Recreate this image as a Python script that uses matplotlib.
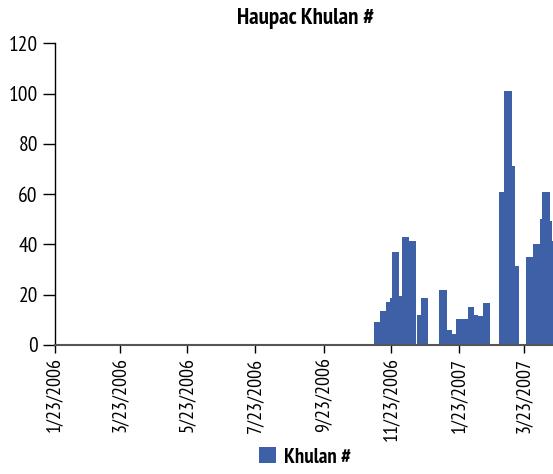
import matplotlib
matplotlib.use('Agg')
import matplotlib.pyplot as plt
import matplotlib.dates as mdates
import numpy as np
from datetime import datetime
from matplotlib.patches import Patch

plt.rcParams['font.family'] = ['PT Sans Narrow', 'DejaVu Sans']

title = 'Haupac Khulan #'
series_name = 'Khulan #'

dates = ['2006-11-07', '2006-11-13', '2006-11-18', '2006-11-22', '2006-11-24',
         '2006-11-30', '2006-12-03', '2006-12-09', '2006-12-15', '2006-12-16',
         '2006-12-20', '2006-12-26', '2007-01-05', '2007-01-12', '2007-01-17',
         '2007-01-20', '2007-01-31', '2007-02-06', '2007-02-09', '2007-02-14',
         '2007-02-20', '2007-02-28', '2007-03-05', '2007-03-12', '2007-03-15',
         '2007-03-18', '2007-03-25', '2007-03-31', '2007-04-06', '2007-04-08',
         '2007-04-15', '2007-04-17']
counts = [9, 13.5, 17, 18.5, 37,
          19.5, 43, 41.5, 0, 12,
          18.5, 0, 22, 6, 4.5,
          10.5, 15, 12, 11.5, 16.5,
          0, 61, 101, 71, 31.5,
          0, 35, 40, 50, 61,
          49.5, 41.5]
end_date = '2007-04-24'

tick_dates = ['2006-01-23', '2006-03-23', '2006-05-23', '2006-07-23',
              '2006-09-23', '2006-11-23', '2007-01-23', '2007-03-23']
tick_labels = ['1/23/2006', '3/23/2006', '5/23/2006', '7/23/2006',
               '9/23/2006', '11/23/2006', '1/23/2007', '3/23/2007']
y_ticks = [0, 20, 40, 60, 80, 100, 120]

x_start = '2006-01-23'
x_end = '2007-04-18'

bar_color = '#3e60a6'

to_num = lambda s: mdates.date2num(datetime.strptime(s, '%Y-%m-%d'))
xs = np.array([to_num(d) for d in dates])
edges = np.append(xs, to_num(end_date))
widths = np.diff(edges)

fig = plt.figure(figsize=(5.53, 4.74), dpi=100)
ax = fig.add_axes([0.0986, 0.2722, 0.9014, 0.6364])

ax.bar(xs, counts, width=widths, align='edge', color=bar_color, linewidth=0)

ax.set_xlim(to_num(x_start), to_num(x_end))
ax.set_ylim(0, 120)
ax.set_yticks(y_ticks)
ax.set_yticklabels([str(v) for v in y_ticks], fontsize=15.5)
ax.set_xticks([to_num(d) for d in tick_dates])
ax.set_xticklabels(tick_labels, rotation=90, fontsize=14.5)

for s in ['top', 'right']:
    ax.spines[s].set_visible(False)
ax.spines['left'].set_color('black')
ax.spines['left'].set_linewidth(1.0)
ax.spines['bottom'].set_color('#555555')
ax.spines['bottom'].set_linewidth(1.5)
ax.tick_params(axis='y', length=9, width=1, color='black', pad=3)
ax.tick_params(axis='x', length=6, width=1, color='black', pad=3)

fig.text(0.552, 0.962, title, ha='center', va='center', fontsize=16.5, fontweight='bold')

handle = Patch(facecolor=bar_color, edgecolor='none', label=series_name)
fig.legend(handles=[handle], loc='center', bbox_to_anchor=(0.552, 0.036), frameon=False,
           prop={'size': 15, 'weight': 'bold'}, handlelength=0.8, handleheight=0.8,
           handletextpad=0.4, borderpad=0)

fig.savefig('out.png', dpi=100)
